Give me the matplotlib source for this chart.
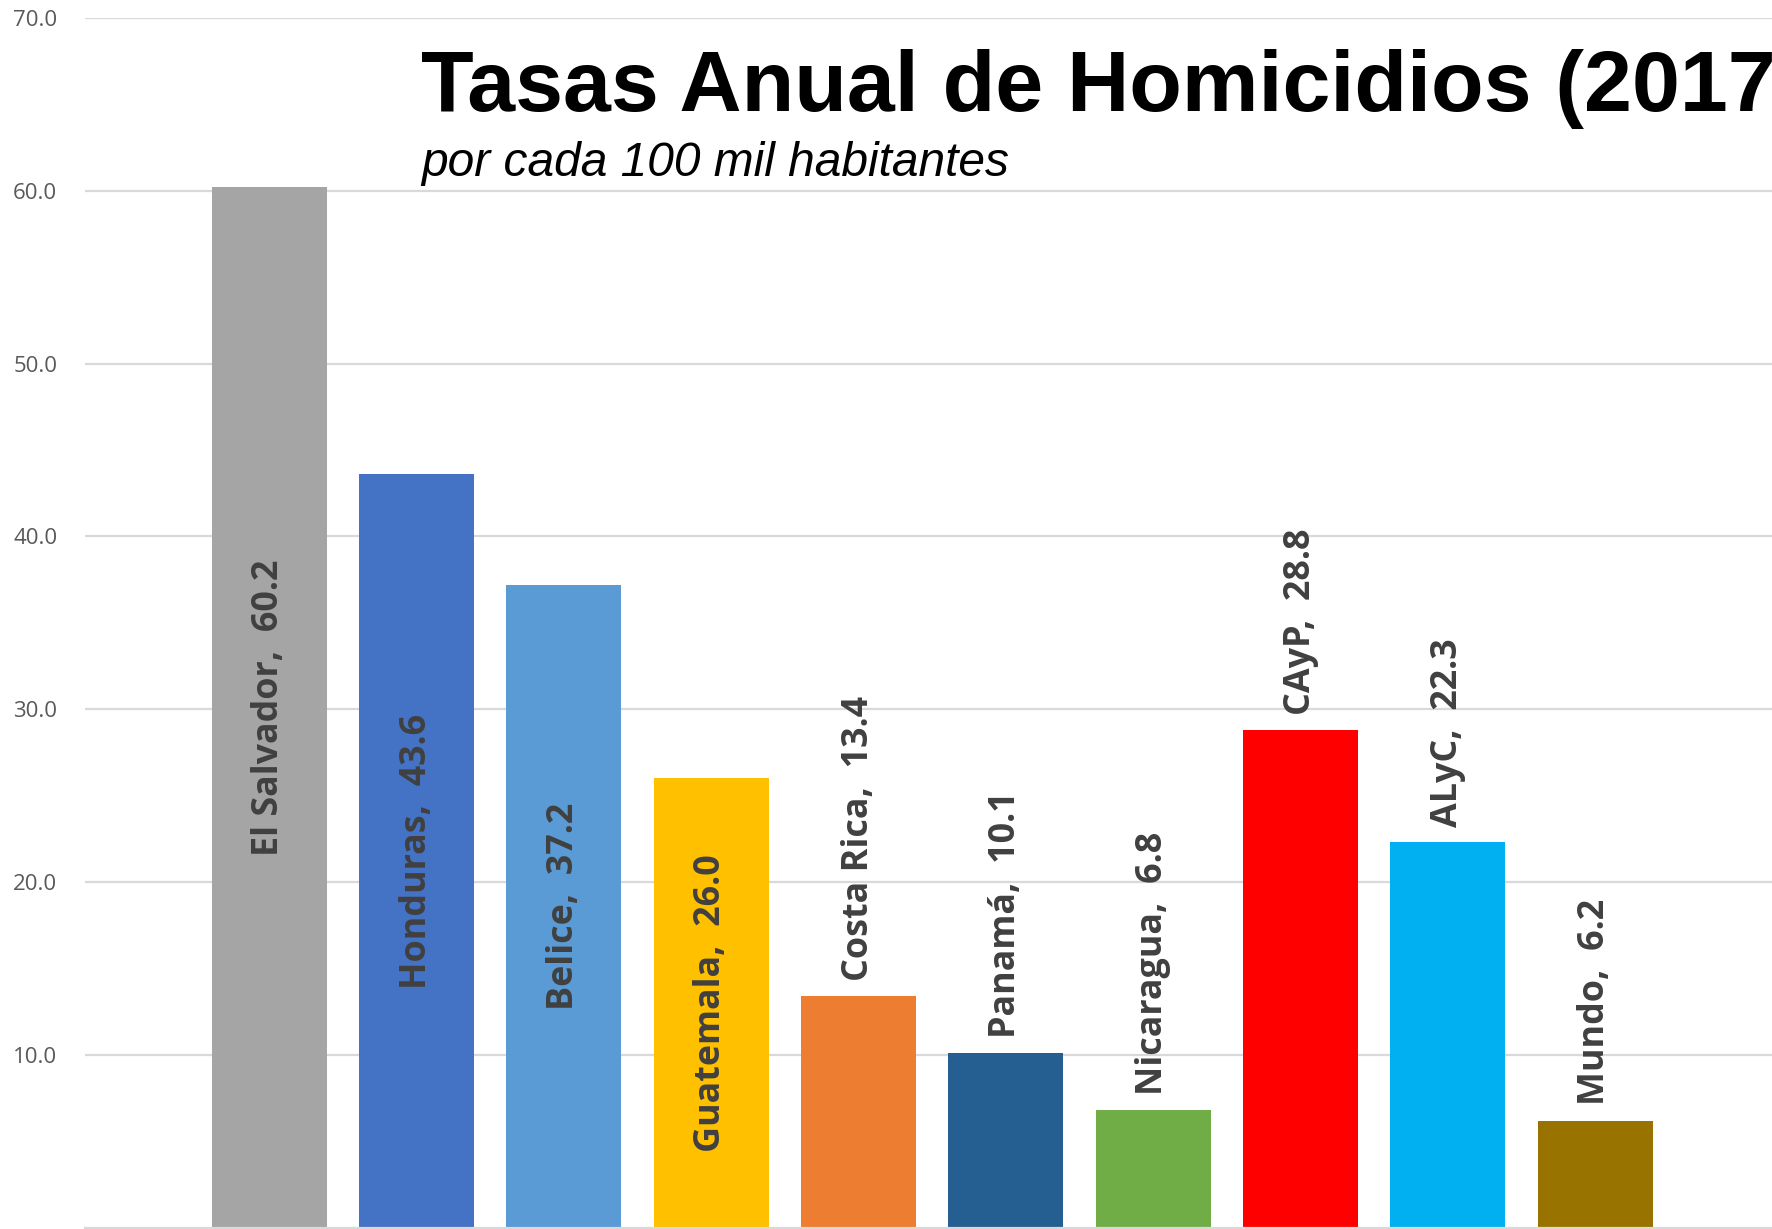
import matplotlib
matplotlib.use('Agg')
import matplotlib.pyplot as plt


# datos del grafico
paises = ['El Salvador', 'Honduras', 'Belice', 'Guatemala', 'Costa Rica',
          'Panamá', 'Nicaragua', 'CAyP', 'ALyC', 'Mundo']
tasas = [60.2, 43.6, 37.2, 26.0, 13.4, 10.1, 6.8, 28.8, 22.3, 6.2]
colores = ['#A5A5A5', '#4472C4', '#5B9BD5', '#FFC000', '#ED7D31',
           '#255E91', '#70AD47', '#FF0000', '#00B0F0', '#997300']
# las primeras etiquetas van dentro de la barra, el resto encima
dentro = [True, True, True, True, False, False, False, False, False, False]
y_ticks = [10, 20, 30, 40, 50, 60, 70]


def main():
    fig = plt.figure(figsize=(17.72, 12.29), dpi=100)
    ax = fig.add_axes([85 / 1772, 0.001, 1 - 85 / 1772, 1 - 18 / 1229 - 0.001])

    x = list(range(len(paises)))
    ax.bar(x, tasas, width=0.78, color=colores, zorder=2)

    ax.set_xlim(-1.25, 10.2)
    ax.set_ylim(0, 70)
    ax.set_yticks(y_ticks)
    ax.set_yticklabels(['%.1f' % v for v in y_ticks],
                       fontsize=16, color='#595959', family=['Open Sans', 'DejaVu Sans'])
    ax.tick_params(axis='y', length=0, pad=20)
    ax.set_xticks([])
    ax.grid(axis='y', color='#D9D9D9', linewidth=1.6, zorder=0)
    for s in ['left', 'right', 'top']:
        ax.spines[s].set_visible(False)
    ax.spines['bottom'].set_color('#D9D9D9')
    ax.spines['bottom'].set_linewidth(1.6)

    for i in range(len(paises)):
        texto = paises[i] + ',  ' + '%.1f' % tasas[i]
        if dentro[i]:
            ax.text(x[i], tasas[i] / 2, texto, rotation=90, ha='center', va='center',
                    fontsize=25.8, fontweight='bold', color='#404040',
                    family=['Open Sans', 'DejaVu Sans'], zorder=3)
        else:
            ax.annotate(texto, (x[i], tasas[i]), xytext=(0, 11), textcoords='offset points',
                        rotation=90, ha='center', va='bottom',
                        fontsize=25.8, fontweight='bold', color='#404040',
                        family=['Open Sans', 'DejaVu Sans'], zorder=3)

    # el titulo queda cortado en el borde derecho, igual que el original
    fig.text(421 / 1772, 1 - 111 / 1229, 'Tasas Anual de Homicidios (2017)',
             fontsize=62, fontweight='bold', color='black',
             family=['Liberation Sans', 'DejaVu Sans'], va='baseline')
    fig.text(421 / 1772, 1 - 176 / 1229, 'por cada 100 mil habitantes',
             fontsize=34.5, style='italic', color='black',
             family=['Liberation Sans', 'DejaVu Sans'], va='baseline')

    fig.savefig('out.png', dpi=100)


main()
